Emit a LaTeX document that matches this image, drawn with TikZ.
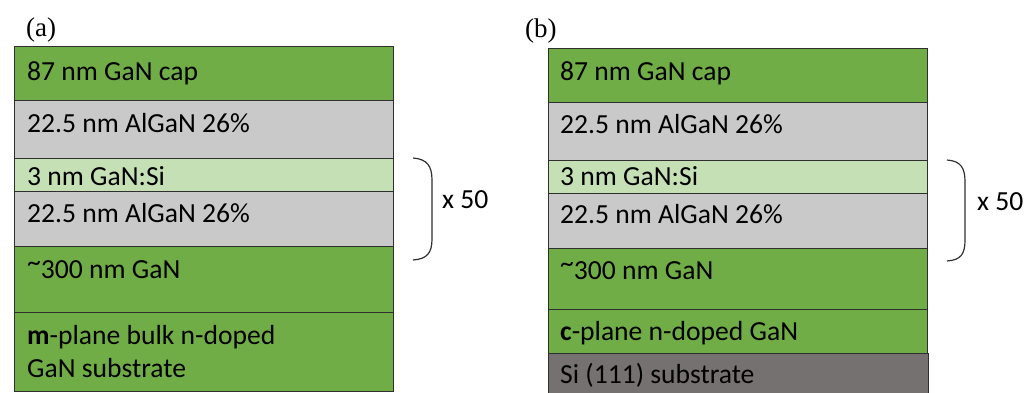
\documentclass[tikz,border=0pt]{standalone}
\usepackage{fontspec}
\setmainfont{Carlito}
\newfontfamily\panelfont{Liberation Serif}
\usetikzlibrary{positioning}
\usetikzlibrary{calc}
\definecolor{gangreen}{HTML}{70AD47}
\definecolor{algangray}{HTML}{C9C9C9}
\definecolor{dopedgreen}{HTML}{C5E0B4}
\definecolor{sigray}{HTML}{767171}
\definecolor{edgegray}{HTML}{2F2F2F}
\newcommand{\hitilde}{\raisebox{0.22em}{\char`\~}}
\tikzset{
  layer/.style={draw=edgegray, line width=0.8pt, minimum width=379pt,
    anchor=north west, inner sep=0pt, outer sep=0pt},
  lbl/.style={anchor=base west, inner sep=0pt, align=left,
    font=\fontsize{27.6}{33}\selectfont},
  panel/.style={anchor=base west, inner sep=0pt,
    font=\panelfont\fontsize{27}{30}\selectfont},
  brace/.style={draw=edgegray, line width=1.2pt}
}
\begin{document}
\begin{tikzpicture}[x=1pt,y=-1pt]
\useasboundingbox (0,0) rectangle (1035,392);
% (a) m-plane bulk GaN
\node[panel] (panA) at (26,36) {(a)};
\node[layer, fill=gangreen, minimum height=54pt] (capA) at (14,46) {};
\node[layer, fill=algangray, minimum height=58pt] (algaA) at (capA.south west) {};
\node[layer, fill=dopedgreen, minimum height=33pt] (sidopA) at (algaA.south west) {};
\node[layer, fill=algangray, minimum height=55pt] (algbA) at (sidopA.south west) {};
\node[layer, fill=gangreen, minimum height=66pt] (bufA) at (algbA.south west) {};
\node[layer, fill=gangreen, minimum height=79pt] (subA) at (bufA.south west) {};
\node[lbl] (capAtxt) at ($(capA.north west)+(13,34)$) {87 nm GaN cap};
\node[lbl] (algaAtxt) at ($(algaA.north west)+(13,32)$) {22.5 nm AlGaN 26\%};
\node[lbl] (sidopAtxt) at ($(sidopA.north west)+(13,27)$) {3 nm GaN:Si};
\node[lbl] (algbAtxt) at ($(algbA.north west)+(13,31)$) {22.5 nm AlGaN 26\%};
\node[lbl] (bufAtxt) at ($(bufA.north west)+(13,32)$) {\hitilde300 nm GaN};
\node[lbl] (subAtxt) at ($(subA.north west)+(13,65)$) {\textbf{m}-plane bulk n-doped\\GaN substrate};
\coordinate (brAtop) at (413,158);
\coordinate (brAbot) at (413,260);
\draw[brace] (brAtop) .. controls (427,159) and (432,166) .. (432,180)
  -- (432,239) .. controls (432,253) and (427,259) .. (brAbot);
\node[lbl] (repA) at (442,208) {x 50};
% (b) c-plane GaN on Si
\node[panel] (panB) at (525,37) {(b)};
\node[layer, fill=gangreen, minimum height=54pt] (capB) at (548,48) {};
\node[layer, fill=algangray, minimum height=58pt] (algaB) at (capB.south west) {};
\node[layer, fill=dopedgreen, minimum height=33pt] (sidopB) at (algaB.south west) {};
\node[layer, fill=algangray, minimum height=55pt] (algbB) at (sidopB.south west) {};
\node[layer, fill=gangreen, minimum height=61pt] (bufB) at (algbB.south west) {};
\node[layer, fill=gangreen, minimum height=44pt] (tempB) at (bufB.south west) {};
\node[layer, fill=sigray, minimum height=42pt, minimum width=380pt] (siB) at (tempB.south west) {};
\node[lbl] (capBtxt) at ($(capB.north west)+(12,32)$) {87 nm GaN cap};
\node[lbl] (algaBtxt) at ($(algaB.north west)+(12,31)$) {22.5 nm AlGaN 26\%};
\node[lbl] (sidopBtxt) at ($(sidopB.north west)+(12,25)$) {3 nm GaN:Si};
\node[lbl] (algbBtxt) at ($(algbB.north west)+(12,30)$) {22.5 nm AlGaN 26\%};
\node[lbl] (bufBtxt) at ($(bufB.north west)+(12,31)$) {\hitilde300 nm GaN};
\node[lbl] (tempBtxt) at ($(tempB.north west)+(12,31)$) {\textbf{c}-plane n-doped GaN};
\node[lbl] (siBtxt) at ($(siB.north west)+(12,30)$) {Si (111) substrate};
\coordinate (brBtop) at (947,160);
\coordinate (brBbot) at (947,261);
\draw[brace] (brBtop) .. controls (961,161) and (965,168) .. (965,182)
  -- (965,240) .. controls (965,254) and (961,260) .. (brBbot);
\node[lbl] (repB) at (977,210) {x 50};
\end{tikzpicture}
\end{document}
